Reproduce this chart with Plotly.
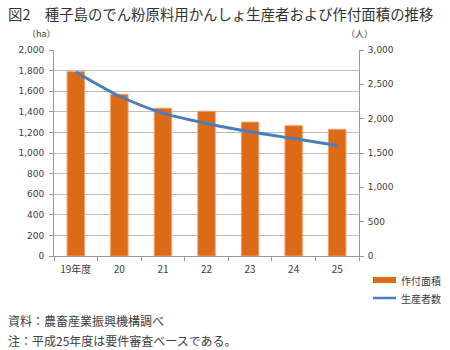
import plotly.graph_objects as go

categories = ["19年度", "20", "21", "22", "23", "24", "25"]
area_ha = [1790, 1570, 1435, 1405, 1300, 1265, 1230]
producers = [2680, 2330, 2080, 1930, 1810, 1710, 1610]

title_text = "図2　種子島のでん粉原料用かんしょ生産者および作付面積の推移"
note1 = "資料：農畜産業振興機構調べ"
note2 = "注：平成25年度は要件審査ベースである。"

JP = "Noto Sans CJK JP"
TICKF = dict(family="DejaVu Sans", size=9, color="#404040")
BAR_C = "#DC6A17"
LINE_C = "#4A7EBB"
GRID_C = "#BDBDBD"

fig = go.Figure()
fig.add_trace(go.Bar(
    x=categories, y=area_ha, name="作付面積",
    marker=dict(color=BAR_C, line=dict(color="#F0A070", width=1)),
    yaxis="y", showlegend=False,
))
fig.add_trace(go.Scatter(
    x=categories, y=producers, name="生産者数", mode="lines",
    line=dict(color=LINE_C, width=3, shape="spline", smoothing=0.8),
    yaxis="y2", showlegend=False,
))

fig.update_layout(
    width=450, height=350,
    margin=dict(l=54, r=91, t=50, b=94),
    paper_bgcolor="white", plot_bgcolor="white",
    bargap=0.6,
    font=dict(family=JP, color="#333333"),
    xaxis=dict(
        type="category", tickson="boundaries", ticks="outside", ticklen=4,
        tickcolor="#999999", showline=True, linecolor="#999999", linewidth=1,
        showgrid=False, tickfont=dict(family=JP, size=10, color="#404040"),
        range=[-0.5, 6.5], ticklabelstandoff=4,
    ),
    yaxis=dict(
        range=[0, 2000], dtick=200, tickformat=",d", showgrid=True,
        gridcolor=GRID_C, gridwidth=1, showline=True, linecolor="#999999",
        ticks="outside", ticklen=4, tickcolor="#999999", tickfont=TICKF,
        zeroline=False, ticklabelstandoff=3,
    ),
    yaxis2=dict(
        range=[0, 3000], dtick=500, tickformat=",d", overlaying="y",
        side="right", showgrid=False, showline=True, linecolor="#999999",
        ticks="outside", ticklen=4, tickcolor="#999999", tickfont=TICKF,
        zeroline=False, ticklabelstandoff=2,
    ),
    showlegend=False,
)

annotations = [
    dict(text=title_text, x=6, y=350 - 13, xanchor="left", showarrow=False,
         font=dict(family=JP, size=14.4, color="#333333")),
    dict(text="（ha）", x=25, y=350 - 33, showarrow=False,
         font=dict(family=JP, size=9, color="#404040")),
    dict(text="（人）", x=375, y=350 - 33, showarrow=False,
         font=dict(family=JP, size=9, color="#404040")),
    dict(text="作付面積", x=399, y=350 - 280, xanchor="left", showarrow=False,
         font=dict(family=JP, size=10, color="#404040")),
    dict(text="生産者数", x=399, y=350 - 298, xanchor="left", showarrow=False,
         font=dict(family=JP, size=10, color="#404040")),
    dict(text=note1, x=6, y=350 - 320, xanchor="left", showarrow=False,
         font=dict(family=JP, size=12, color="#404040")),
    dict(text=note2, x=6, y=350 - 340, xanchor="left", showarrow=False,
         font=dict(family=JP, size=12, color="#404040")),
]
# convert pixel coords to paper coords
pw, ph = 450 - 54 - 91, 350 - 50 - 94
for a in annotations:
    a["xref"] = "paper"; a["yref"] = "paper"
    a["x"] = (a["x"] - 54) / pw
    a["y"] = (a["y"] - 94) / ph
    a.setdefault("yanchor", "middle")
fig.update_layout(annotations=annotations)

def px(xp): return (xp - 54) / pw
def py(yp): return (350 - yp - 94) / ph

fig.update_layout(shapes=[
    dict(type="rect", xref="paper", yref="paper", x0=px(373), x1=px(396),
         y0=py(283), y1=py(277), fillcolor=BAR_C, line=dict(width=0)),
    dict(type="line", xref="paper", yref="paper", x0=px(373), x1=px(396),
         y0=py(298), y1=py(298), line=dict(color=LINE_C, width=2.5)),
])

fig.write_html("out.html")
